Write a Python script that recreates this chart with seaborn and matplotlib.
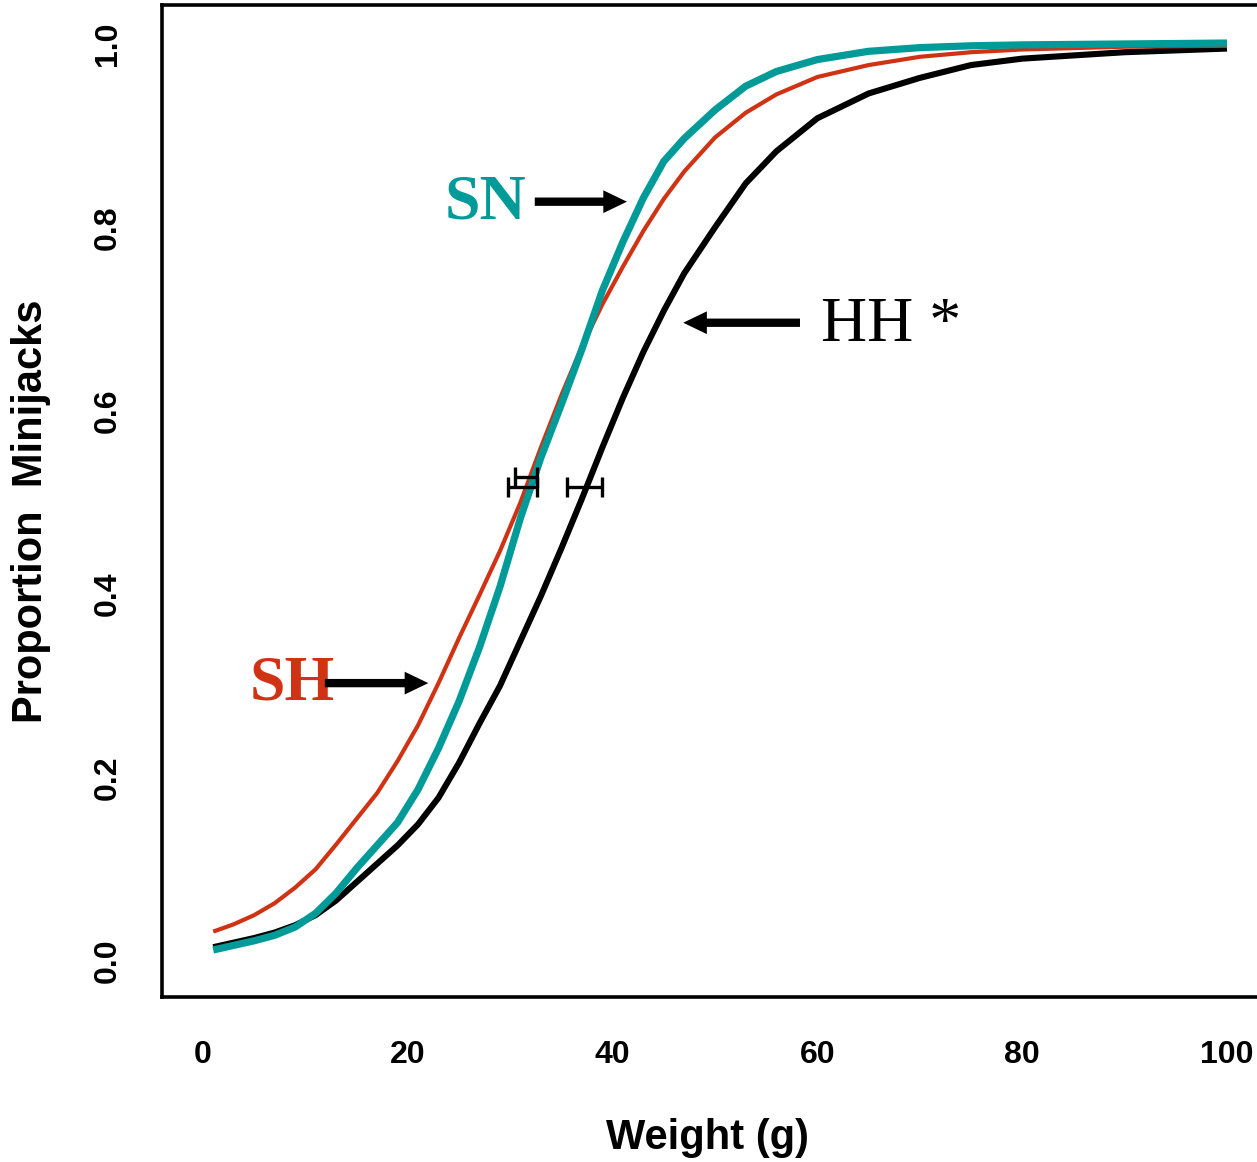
import matplotlib
matplotlib.use("Agg")
import matplotlib.pyplot as plt
import seaborn as sns
import pandas as pd

# ---------------- data ----------------
weight = [1, 3, 5, 7, 9, 11, 13, 15, 17, 19, 21, 23, 25, 27, 29, 31, 33, 35, 37, 39,
          41, 43, 45, 47, 50, 53, 56, 60, 65, 70, 75, 80, 90, 100]
p_HH = [0.015, 0.020, 0.025, 0.031, 0.039, 0.050, 0.066, 0.086, 0.106, 0.126, 0.149,
        0.178, 0.216, 0.259, 0.300, 0.349, 0.398, 0.450, 0.504, 0.560, 0.614, 0.664,
        0.709, 0.750, 0.800, 0.848, 0.883, 0.919, 0.946, 0.963, 0.977, 0.984, 0.991, 0.995]
p_SH = [0.032, 0.040, 0.050, 0.063, 0.080, 0.100, 0.127, 0.155, 0.183, 0.218, 0.257,
        0.303, 0.352, 0.399, 0.447, 0.500, 0.560, 0.617, 0.670, 0.716, 0.757, 0.796,
        0.831, 0.861, 0.898, 0.925, 0.945, 0.964, 0.977, 0.986, 0.991, 0.994, 0.997, 0.998]
p_SN = [0.012, 0.017, 0.022, 0.028, 0.037, 0.052, 0.074, 0.101, 0.126, 0.151, 0.187,
        0.232, 0.283, 0.342, 0.408, 0.483, 0.549, 0.607, 0.667, 0.731, 0.784, 0.832,
        0.872, 0.897, 0.928, 0.954, 0.970, 0.983, 0.992, 0.996, 0.998, 0.999, 1.000, 1.001]

groups = ["HH", "SH", "SN"]
colors = {"HH": "#000000", "SH": "#D03214", "SN": "#009A98"}
widths = {"HH": 4.4, "SH": 3.0, "SN": 5.2}

# 50% weight estimates with intervals (error bars)
ci_group = ["SN", "SH", "HH"]
ci_center = [31.55, 31.2, 37.25]
ci_half = [1.07, 1.40, 1.70]
ci_y = [0.528, 0.517, 0.517]

# label annotations
lab_text = ["SN", "SH", "HH *"]
lab_x = [31.6, 4.6, 60.4]
lab_y = [0.826, 0.302, 0.692]
arrow_tail_x = [32.4, 11.9, 58.3]
arrow_head_x = [41.4, 22.0, 46.9]
arrow_y = [0.828, 0.303, 0.696]

df = pd.DataFrame({
    "Weight": weight * 3,
    "Proportion": p_HH + p_SH + p_SN,
    "Group": ["HH"] * len(weight) + ["SH"] * len(weight) + ["SN"] * len(weight),
})

# ---------------- style ----------------
sns.set_style("white")
plt.rcParams["font.family"] = ["Liberation Sans", "DejaVu Sans"]
plt.rcParams["text.color"] = "black"
plt.rcParams["axes.labelcolor"] = "black"

fig = plt.figure(figsize=(12.57, 11.62), dpi=100)
ax = fig.add_axes([0.1289, 0.142, 0.8711, 0.8537])

for g in groups:
    sub = df[df["Group"] == g]
    sns.lineplot(data=sub, x="Weight", y="Proportion", ax=ax, color=colors[g],
                 linewidth=widths[g], estimator=None, sort=True,
                 solid_capstyle="butt", solid_joinstyle="round")

for g, c, h, y in zip(ci_group, ci_center, ci_half, ci_y):
    ax.errorbar([c], [y], xerr=[h], fmt="none", ecolor="black", elinewidth=2.4,
                capsize=7, capthick=2.4, zorder=5)

# annotations
lab_colors = [colors["SN"], colors["SH"], "black"]
lab_ha = ["right", "left", "left"]
lab_weight = ["bold", "bold", "normal"]
for t, x, y, c, ha, w in zip(lab_text, lab_x, lab_y, lab_colors, lab_ha, lab_weight):
    ax.text(x, y, t, color=c, ha=ha, va="center", fontsize=46, fontweight=w,
            family=["Liberation Serif", "DejaVu Serif"], zorder=6)
for tx, hx, y in zip(arrow_tail_x, arrow_head_x, arrow_y):
    ax.annotate("", xy=(hx, y), xytext=(tx, y),
                arrowprops=dict(arrowstyle="simple,head_length=0.85,head_width=0.82,tail_width=0.3",
                                mutation_scale=20, color="black", lw=0,
                                shrinkA=0, shrinkB=0), zorder=7)

# axes styling
ax.set_xlim(-4.0, 102.93)
ax.set_ylim(-0.0393, 1.0425)
ax.set_xticks([0, 20, 40, 60, 80, 100])
ax.set_yticks([0.0, 0.2, 0.4, 0.6, 0.8, 1.0])
ax.set_xticklabels(["0", "20", "40", "60", "80", "100"])
ax.set_yticklabels(["0.0", "0.2", "0.4", "0.6", "0.8", "1.0"])
ax.tick_params(axis="both", which="major", direction="out", length=14, width=2.2,
               labelsize=23, color="black", labelcolor="black")
ax.tick_params(axis="x", pad=17)
ax.tick_params(axis="y", pad=14)
for lab in ax.get_xticklabels() + ax.get_yticklabels():
    lab.set_fontweight("bold")
for lab in ax.get_yticklabels():
    lab.set_rotation(90)
    lab.set_va("center")

for side in ["left", "bottom", "top"]:
    ax.spines[side].set_visible(True)
    ax.spines[side].set_linewidth(2.6)
    ax.spines[side].set_color("black")
ax.spines["right"].set_visible(False)
ax.set_xlabel("")
ax.set_ylabel("")

fig.text(707 / 1257, 1 - 1138 / 1162, "Weight (g)", ha="center", va="center",
         fontsize=30, fontweight="bold", color="black")
fig.text(31 / 1257, 1 - 511 / 1162, "Proportion  Minijacks", ha="center", va="center",
         rotation=90, fontsize=30, fontweight="bold", color="black")

fig.savefig("out.png", dpi=100)
